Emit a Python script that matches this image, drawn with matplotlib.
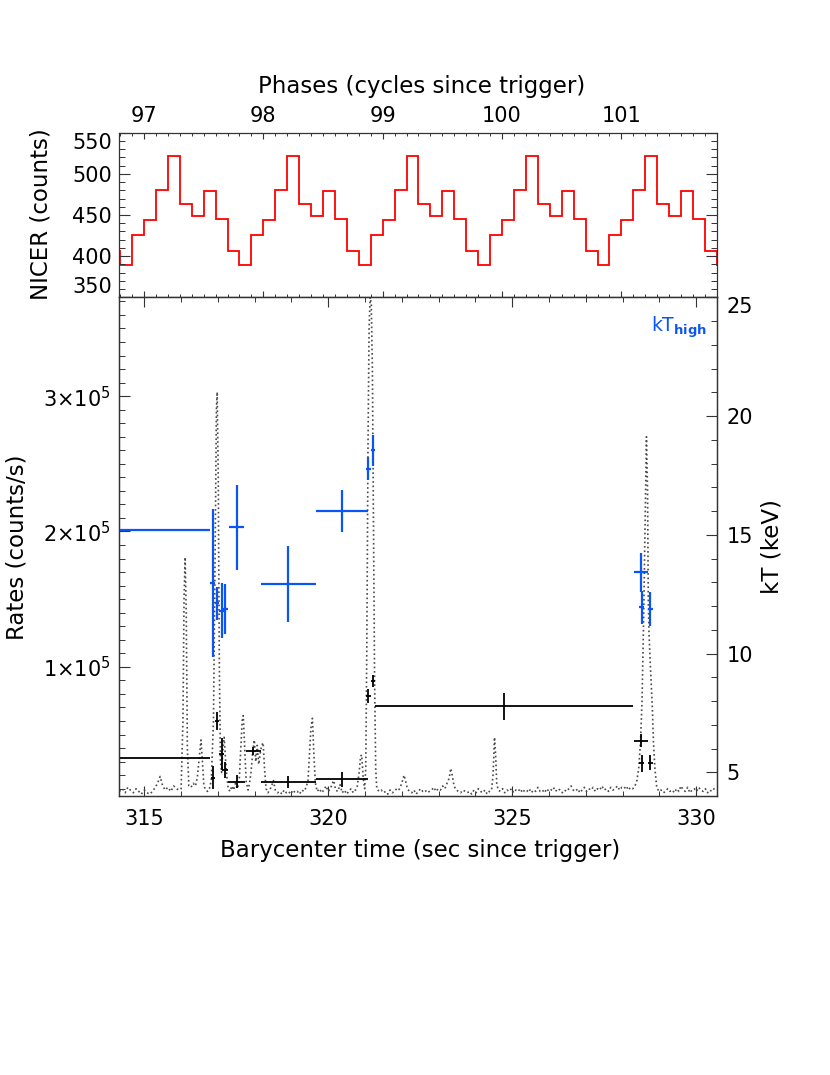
import numpy as np
import matplotlib
matplotlib.use('Agg')
import matplotlib.pyplot as plt
from matplotlib.ticker import MultipleLocator, FixedLocator

plt.rcParams['font.family'] = ['DejaVu Sans']
plt.rcParams['mathtext.default'] = 'regular'

# ---- data ----
# NICER folded pulse profile (counts), 10 phase bins starting at phase fraction 0.0
profile = [443.6, 480, 522, 463, 449, 479, 445, 406, 389, 426]
period = 3.245          # s
t_phase97 = 314.99      # barycenter time of phase 97
n_cycles = 6            # cycles 96..101

# light curve (sec since trigger, rate in 1e3 counts/s)
lc_t = [314.32, 314.40, 314.48, 314.55, 314.62, 314.70, 314.78, 314.85, 314.92, 315.00,
        315.07, 315.15, 315.22, 315.30, 315.36, 315.43, 315.50, 315.57, 315.64, 315.72,
        315.80, 315.87, 315.94, 316.00, 316.05, 316.08, 316.11, 316.14, 316.17, 316.21,
        316.27, 316.33, 316.39, 316.44, 316.49, 316.54, 316.58, 316.62, 316.67, 316.72,
        316.77, 316.82, 316.88, 316.92, 316.96, 316.98, 317.01, 317.04, 317.07, 317.10,
        317.14, 317.17, 317.20, 317.24, 317.28, 317.33, 317.38, 317.43, 317.48, 317.53,
        317.58, 317.62, 317.66, 317.69, 317.73, 317.77, 317.82, 317.86, 317.90, 317.95,
        317.99, 318.03, 318.07, 318.11, 318.15, 318.19, 318.23, 318.27, 318.31, 318.36,
        318.41, 318.46, 318.51, 318.56, 318.62, 318.68, 318.74, 318.80, 318.86, 318.92,
        318.98, 319.04, 319.10, 319.16, 319.22, 319.28, 319.34, 319.40, 319.45, 319.49,
        319.53, 319.57, 319.61, 319.65, 319.70, 319.76, 319.82, 319.88, 319.94, 320.00,
        320.06, 320.11, 320.15, 320.20, 320.26, 320.32, 320.38, 320.44, 320.50, 320.56,
        320.62, 320.68, 320.74, 320.79, 320.84, 320.88, 320.91, 320.95, 320.99, 321.02,
        321.05, 321.08, 321.11, 321.14, 321.17, 321.20, 321.23, 321.26, 321.29, 321.32,
        321.38, 321.44, 321.50, 321.56, 321.62, 321.68, 321.74, 321.80, 321.86, 321.92,
        321.97, 322.02, 322.06, 322.10, 322.15, 322.21, 322.27, 322.33, 322.39, 322.45,
        322.51, 322.57, 322.63, 322.69, 322.75, 322.81, 322.87, 322.93, 322.99, 323.05,
        323.11, 323.17, 323.23, 323.29, 323.33, 323.37, 323.42, 323.48, 323.54, 323.60,
        323.66, 323.72, 323.78, 323.84, 323.90, 323.96, 324.02, 324.08, 324.14, 324.20,
        324.26, 324.32, 324.38, 324.44, 324.48, 324.52, 324.55, 324.58, 324.62, 324.68,
        324.74, 324.80, 324.86, 324.92, 324.98, 325.04, 325.10, 325.16, 325.22, 325.28,
        325.34, 325.40, 325.46, 325.52, 325.58, 325.64, 325.70, 325.76, 325.82, 325.88,
        325.94, 326.00, 326.06, 326.12, 326.18, 326.24, 326.30, 326.36, 326.42, 326.48,
        326.54, 326.60, 326.66, 326.72, 326.78, 326.84, 326.90, 326.96, 327.02, 327.08,
        327.14, 327.20, 327.26, 327.32, 327.38, 327.44, 327.50, 327.56, 327.62, 327.68,
        327.74, 327.80, 327.86, 327.92, 327.98, 328.04, 328.10, 328.16, 328.22, 328.28,
        328.34, 328.39, 328.44, 328.49, 328.53, 328.57, 328.61, 328.65, 328.68, 328.70,
        328.72, 328.75, 328.78, 328.81, 328.84, 328.88, 328.93, 328.99, 329.05, 329.11,
        329.17, 329.23, 329.29, 329.35, 329.41, 329.47, 329.53, 329.59, 329.65, 329.71,
        329.77, 329.83, 329.89, 329.95, 330.01, 330.07, 330.13, 330.19, 330.25, 330.31,
        330.37, 330.43, 330.49, 330.56]
lc_rate = [8, 10, 7, 11, 9, 7, 10, 8, 6, 9,
           7, 6, 8, 11, 14, 19, 12, 9, 11, 8,
           12, 10, 9, 10, 60, 150, 181, 140, 40, 12,
           11, 14, 12, 18, 32, 46, 30, 12, 9, 8,
           10, 16, 60, 170, 290, 303, 240, 100, 30, 22,
           40, 48, 35, 20, 10, 8, 12, 9, 14, 10,
           16, 38, 60, 64, 40, 15, 9, 14, 22, 38,
           46, 30, 42, 28, 36, 42, 44, 24, 10, 7,
           9, 12, 16, 9, 7, 8, 6, 9, 7, 8,
           6, 9, 7, 8, 6, 9, 8, 11, 16, 35,
           55, 62, 35, 14, 8, 10, 7, 9, 12, 8,
           10, 14, 16, 9, 8, 13, 7, 9, 6, 8,
           10, 7, 9, 12, 22, 34, 35, 18, 10, 25,
           120, 260, 350, 373, 368, 320, 210, 90, 25, 10,
           8, 9, 7, 8, 6, 9, 7, 8, 10, 9,
           12, 16, 20, 16, 10, 8, 7, 9, 6, 8,
           10, 8, 9, 7, 8, 9, 11, 8, 10, 9,
           12, 10, 14, 18, 25, 20, 12, 9, 8, 7,
           9, 8, 7, 8, 6, 9, 7, 10, 8, 7,
           9, 6, 8, 9, 20, 48, 35, 14, 9, 8,
           10, 7, 9, 8, 10, 7, 9, 8, 10, 7,
           9, 8, 10, 7, 9, 8, 11, 8, 9, 7,
           10, 8, 9, 11, 8, 10, 9, 7, 9, 8,
           10, 12, 9, 8, 10, 7, 9, 11, 8, 10,
           9, 11, 8, 10, 9, 12, 9, 10, 8, 11,
           9, 10, 12, 9, 11, 10, 12, 9, 11, 10,
           12, 16, 25, 45, 75, 130, 200, 270, 230, 150,
           125, 105, 88, 70, 45, 25, 11, 8, 9, 7,
           8, 10, 8, 9, 7, 10, 8, 12, 9, 8,
           11, 7, 9, 10, 8, 11, 9, 8, 10, 7,
           9, 8, 10, 9]

# kT_high (blue) spectral fits
hi_t = [314.00, 316.86, 316.98, 317.10, 317.19, 317.51, 318.91, 320.38, 321.09, 321.22, 328.49, 328.52, 328.76]
hi_terr = [2.785, 0.07, 0.06, 0.06, 0.09, 0.21, 0.745, 0.71, 0.06, 0.06, 0.19, 0.06, 0.06]
hi_kt = [15.21, 12.97, 12.12, 11.81, 11.88, 15.31, 12.91, 15.99, 17.79, 18.55, 13.42, 11.94, 11.87]
hi_kterr = [1.5, 3.1, 0.7, 1.15, 1.05, 1.8, 1.6, 0.88, 0.48, 0.64, 0.81, 0.69, 0.71]

# kT_low (black) spectral fits
lo_t = [314.00, 316.86, 316.98, 317.10, 317.19, 317.51, 317.96, 318.91, 320.38, 321.09, 321.22, 324.78, 328.49, 328.52, 328.76]
lo_terr = [2.785, 0.06, 0.06, 0.06, 0.09, 0.23, 0.20, 0.745, 0.71, 0.06, 0.06, 3.51, 0.19, 0.06, 0.06]
lo_kt = [5.59, 4.77, 7.16, 5.76, 5.10, 4.60, 5.90, 4.58, 4.70, 8.22, 8.86, 7.77, 6.33, 5.38, 5.40]
lo_kterr = [0.3, 0.49, 0.39, 0.67, 0.35, 0.28, 0.18, 0.25, 0.31, 0.29, 0.25, 0.57, 0.26, 0.35, 0.32]

t_range = (314.32, 330.56)

# ---- figure ----
W, H = 830, 1075
fig = plt.figure(figsize=(W / 100, H / 100), dpi=100)
axcol = '#333333'
fs = 15       # tick labels
fs_t = 16.5   # axis titles


def px(x, y):
    return x / W, 1 - y / H


x0, x1 = 119.3, 716.7
ax_top = fig.add_axes([x0 / W, 1 - 297.3 / H, (x1 - x0) / W, (297.3 - 132.7) / H])
ax = fig.add_axes([x0 / W, 1 - 796 / H, (x1 - x0) / W, (796 - 297.3) / H])
ax2 = ax.twinx()

for a in (ax_top, ax, ax2):
    for s in a.spines.values():
        s.set_color(axcol)
        s.set_linewidth(0.9)

# top panel: pulse profile vs phase
edges = np.round(np.arange(96.0, 96.0 + n_cycles + 0.001, 0.1), 3)
vals = np.tile(profile, n_cycles)
ax_top.stairs(vals, edges, baseline=None, color='red', lw=1.3)
ph0 = 97 + (t_range[0] - t_phase97) / period
ph1 = 97 + (t_range[1] - t_phase97) / period
ax_top.set_xlim(ph0, ph1)
ax_top.set_ylim(350, 550)
ax_top.xaxis.set_major_locator(MultipleLocator(1))
ax_top.xaxis.set_minor_locator(MultipleLocator(0.1))
ax_top.yaxis.set_minor_locator(MultipleLocator(10))
ax_top.tick_params(axis='x', which='both', direction='in', top=True, bottom=True,
                   labeltop=True, labelbottom=False, color=axcol, labelsize=fs, pad=4.5)
ax_top.tick_params(axis='x', which='major', length=4, width=0.8)
ax_top.tick_params(axis='x', which='minor', length=2.5, width=0.7)
ax_top.tick_params(axis='y', which='both', direction='in', left=True, right=True,
                   color=axcol, labelsize=fs, pad=5.5)
ax_top.tick_params(axis='y', which='major', length=8, width=0.8)
ax_top.tick_params(axis='y', which='minor', length=4.3, width=0.7)
ax_top.set_yticks([350, 400, 450, 500, 550])
ylabs = ax_top.set_yticklabels(['350', '400', '450', '500', '550'])
ylabs[0].set_va('bottom')
ylabs[-1].set_va('top')

# bottom panel: light curve (left) and temperatures (right)
ax.plot(lc_t, np.array(lc_rate) * 1e3, ls=':', color='#4a4a4a', lw=1.2)
ax.set_xlim(*t_range)
ax.set_ylim(4.6e3, 3.73e5)
ax.xaxis.set_major_locator(MultipleLocator(5))
ax.xaxis.set_minor_locator(MultipleLocator(1))
ax.yaxis.set_major_locator(FixedLocator([1e5, 2e5, 3e5]))
ax.yaxis.set_minor_locator(MultipleLocator(1e4))
ax.set_yticklabels(['1×10$^5$', '2×10$^5$', '3×10$^5$'])
ax.tick_params(axis='x', which='both', direction='in', top=True, bottom=True,
               color=axcol, labelsize=fs, pad=9.5)
ax.tick_params(axis='x', which='major', length=7, width=0.8)
ax.tick_params(axis='x', which='minor', length=3.6, width=0.7)
ax.tick_params(axis='y', which='both', direction='in', left=True, right=False,
               color=axcol, labelsize=fs, pad=6.5)
ax.tick_params(axis='y', which='major', length=8, width=0.8)
ax.tick_params(axis='y', which='minor', length=4.3, width=0.7)

ax2.errorbar(lo_t, lo_kt, xerr=lo_terr, yerr=lo_kterr, fmt='none',
             ecolor='black', elinewidth=1.3, capsize=0)
ax2.errorbar(hi_t, hi_kt, xerr=hi_terr, yerr=hi_kterr, fmt='none',
             ecolor='#0a55f5', elinewidth=1.6, capsize=0)
ax2.set_ylim(4, 25)
ax2.yaxis.set_minor_locator(MultipleLocator(1))
ax2.tick_params(axis='y', which='both', direction='in', right=True, left=False,
                color=axcol, labelsize=fs, pad=7)
ax2.tick_params(axis='y', which='major', length=8, width=0.8)
ax2.tick_params(axis='y', which='minor', length=4.3, width=0.7)
ax2.set_yticks([5, 10, 15, 20, 25])
klabs = ax2.set_yticklabels(['5', '10', '15', '20', '25'])
klabs[-1].set_va('top')

ax.text(0.984, 1 - (327 - 297.3) / (796 - 297.3), 'kT$_{\\mathbf{high}}$', color='#0a55f5',
        fontsize=13.5, ha='right', va='center', transform=ax.transAxes)

# axis titles
fig.text(*px(422, 86), 'Phases (cycles since trigger)', fontsize=fs_t, ha='center', va='center')
fig.text(*px(420, 851), 'Barycenter time (sec since trigger)', fontsize=fs_t, ha='center', va='center')
fig.text(*px(41, 214), 'NICER (counts)', fontsize=fs_t, ha='center', va='center', rotation=90)
fig.text(*px(17, 547), 'Rates (counts/s)', fontsize=fs_t, ha='center', va='center', rotation=90)
fig.text(*px(772, 547), 'kT (keV)', fontsize=fs_t, ha='center', va='center', rotation=90)

fig.savefig('out.png', dpi=100)
